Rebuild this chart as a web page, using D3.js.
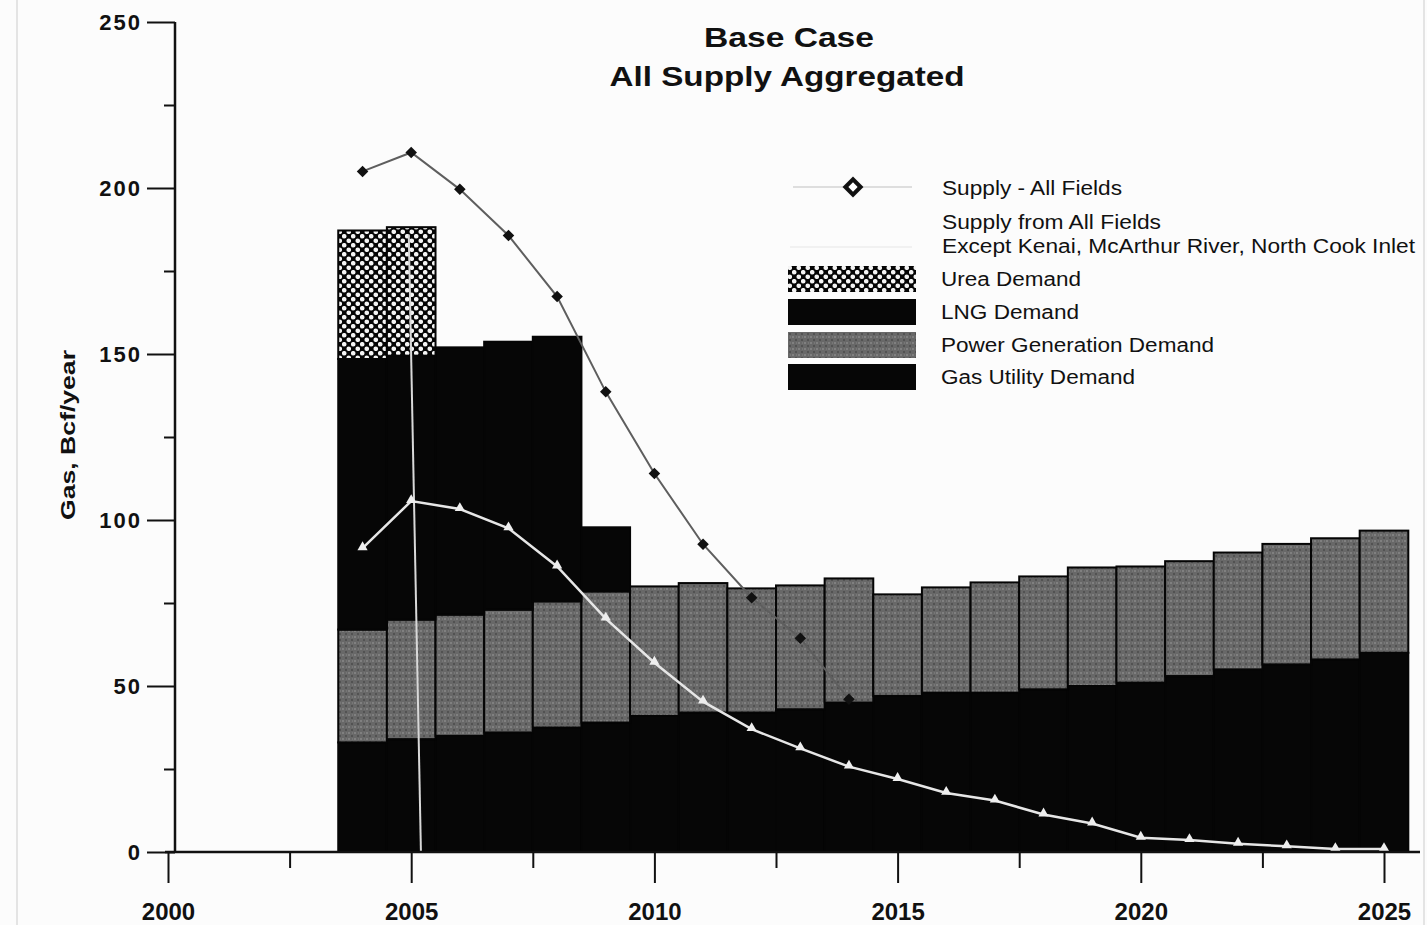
<!DOCTYPE html>
<html><head><meta charset="utf-8">
<script src="https://cdn.jsdelivr.net/npm/d3@7"></script>
<style>
html,body{margin:0;padding:0;background:#fcfcfc;}
svg{display:block;}
text{font-family:"Liberation Sans",Arial,Helvetica,sans-serif;fill:#111;}
</style></head>
<body>
<svg id="chart" width="1427" height="925"></svg>
<script>
// ---- data ----
const years = [2004,2005,2006,2007,2008,2009,2010,2011,2012,2013,2014,2015,2016,2017,2018,2019,2020,2021,2022,2023,2024,2025];
const gasUtility = [33,34,35,36,37.5,39,41,42,42,43,45,47,48,48,49,50,51,53,55,56.5,58,60];
const powerGen   = [34,36,36.5,37,38,39.5,39,39,37.4,37.3,37.4,30.6,31.7,33.2,34,35.7,35,34.6,35.2,36.3,36.5,36.8];
const lngDemand  = [81.5,79.5,80.5,80.7,79.7,19.3,0,0,0,0,0,0,0,0,0,0,0,0,0,0,0,0];
const ureaDemand = [38.7,38.7,0,0,0,0,0,0,0,0,0,0,0,0,0,0,0,0,0,0,0,0];
const supplyAllYears = [2004,2005,2006,2007,2008,2009,2010,2011,2012,2013,2014];
const supplyAll = [205,210.7,199.6,185.7,167.3,138.6,114,92.7,76.6,64.4,46];
const supplyExcept = [91.5,105.7,103.3,97.5,86,70.3,57,45.3,37,31.2,25.7,22,17.8,15.5,11.3,8.6,4.3,3.6,2.5,1.7,0.9,0.9];
const dropLine = [[2004.95,186],[2005.2,0]];
const yMajor = [0,50,100,150,200,250];
const yMinor = [25,75,125,175,225];
const xMajor = [2000,2005,2010,2015,2020,2025];
const xMinor = [2002.5,2007.5,2012.5,2017.5,2022.5];
const titleLines = ["Base Case","All Supply Aggregated"];
const yTitle = "Gas, Bcf/year";
const legendItems = [
  {key:"urea", label:"Urea Demand"},
  {key:"lng", label:"LNG Demand"},
  {key:"power", label:"Power Generation Demand"},
  {key:"utility", label:"Gas Utility Demand"}
];

const svg = d3.select("#chart");
const x = d3.scaleLinear().domain([2000,2025]).range([168,1384]);
const y = d3.scaleLinear().domain([0,250]).range([852,22]);

const defs = svg.append("defs");
const pat = defs.append("pattern").attr("id","dots").attr("patternUnits","userSpaceOnUse")
  .attr("width",9).attr("height",9);
pat.append("rect").attr("width",9).attr("height",9).attr("fill","#050505");
pat.append("circle").attr("cx",2.25).attr("cy",2.25).attr("r",2.3).attr("fill","#f4f4f4");
pat.append("circle").attr("cx",6.75).attr("cy",6.75).attr("r",2.3).attr("fill","#f4f4f4");

const gpat = defs.append("pattern").attr("id","grain").attr("patternUnits","userSpaceOnUse")
  .attr("width",6).attr("height",6);
gpat.append("rect").attr("width",6).attr("height",6).attr("fill","#686868");
gpat.append("rect").attr("x",0).attr("y",0).attr("width",2).attr("height",2).attr("fill","#808080");
gpat.append("rect").attr("x",3).attr("y",3).attr("width",2).attr("height",2).attr("fill","#525252");
gpat.append("rect").attr("x",4).attr("y",0).attr("width",1).attr("height",2).attr("fill","#777");

const fills = {utility:"#060606", power:"url(#grain)", lng:"#060606", urea:"url(#dots)"};

// frame lines of scan
svg.append("line").attr("x1",17).attr("x2",17).attr("y1",0).attr("y2",925).attr("stroke","#ddd").attr("stroke-width",1.5);
svg.append("line").attr("x1",1424).attr("x2",1424).attr("y1",0).attr("y2",925).attr("stroke","#ddd").attr("stroke-width",1.5);

// stacked bars
const table = years.map((yr,i)=>({year:yr, utility:gasUtility[i], power:powerGen[i], lng:lngDemand[i], urea:ureaDemand[i]}));
const stack = d3.stack().keys(["utility","power","lng","urea"])(table);
const gBars = svg.append("g");
stack.forEach(layer=>{
  gBars.append("g").selectAll("rect").data(layer.filter(d=>d[1]-d[0]>0)).join("rect")
    .attr("x",d=>x(d.data.year-0.5))
    .attr("width",d=>x(d.data.year+0.5)-x(d.data.year-0.5))
    .attr("y",d=>y(d[1]))
    .attr("height",d=>y(d[0])-y(d[1]))
    .attr("fill",fills[layer.key])
    .attr("stroke","#050505").attr("stroke-width",2);
});

// faint drop line
svg.append("path").attr("d",d3.line().x(d=>x(d[0])).y(d=>y(d[1]))(dropLine))
  .attr("stroke","#d8d8d8").attr("stroke-width",2).attr("fill","none");

// supply - all fields
const sa = supplyAllYears.map((yr,i)=>[yr,supplyAll[i]]);
svg.append("path").attr("d",d3.line().x(d=>x(d[0])).y(d=>y(d[1]))(sa))
  .attr("stroke","#5e5e5e").attr("stroke-width",2).attr("fill","none");
svg.append("g").selectAll("path").data(sa).join("path")
  .attr("d",d3.symbol(d3.symbolDiamond2,85)())
  .attr("transform",d=>`translate(${x(d[0])},${y(d[1])})`)
  .attr("fill","#111");

// supply except
const se = years.map((yr,i)=>[yr,supplyExcept[i]]);
svg.append("path").attr("d",d3.line().x(d=>x(d[0])).y(d=>y(d[1]))(se))
  .attr("stroke","#e6e6e6").attr("stroke-width",2.5).attr("fill","none");
svg.append("g").selectAll("path").data(se).join("path")
  .attr("d",d3.symbol(d3.symbolTriangle,45)())
  .attr("transform",d=>`translate(${x(d[0])},${y(d[1])-1})`)
  .attr("fill","#eeeeee");

// axes
const yAxisX = 175;
const yAx = svg.append("g").attr("transform",`translate(${yAxisX},0)`)
  .call(d3.axisLeft(y).tickValues(yMajor).tickSize(28).tickPadding(5).tickFormat(d3.format("d")));
yAx.select(".domain").attr("d",`M0,${y(250)}V${y(0)}`).attr("stroke","#111").attr("stroke-width",2.5);
yAx.selectAll(".tick line").attr("stroke","#111").attr("stroke-width",2);
yAx.selectAll(".tick text").style("font-size","22px").style("font-weight","bold").attr("letter-spacing","2").attr("dy","0.36em");
const yMin = svg.append("g").attr("transform",`translate(${yAxisX},0)`)
  .call(d3.axisLeft(y).tickValues(yMinor).tickSize(11).tickFormat(""));
yMin.select(".domain").remove();
yMin.selectAll(".tick line").attr("stroke","#111").attr("stroke-width",2);

const xAx = svg.append("g").attr("transform",`translate(0,${y(0)})`)
  .call(d3.axisBottom(x).tickValues(xMajor).tickSize(31).tickPadding(20).tickFormat(d3.format("d")));
xAx.select(".domain").attr("d",`M165,0H1420`).attr("stroke","#111").attr("stroke-width",2.5);
xAx.selectAll(".tick line").attr("stroke","#111").attr("stroke-width",2);
xAx.selectAll(".tick text").style("font-size","24px").style("font-weight","bold");
const xMin = svg.append("g").attr("transform",`translate(0,${y(0)})`)
  .call(d3.axisBottom(x).tickValues(xMinor).tickSize(16).tickFormat(""));
xMin.select(".domain").remove();
xMin.selectAll(".tick line").attr("stroke","#111").attr("stroke-width",2);

// y title
svg.append("text").attr("transform","translate(75,435) rotate(-90)")
  .attr("text-anchor","middle").style("font-size","21px").style("font-weight","bold")
  .attr("textLength",170).attr("lengthAdjust","spacingAndGlyphs").text(yTitle);

// title
svg.append("text").attr("x",789).attr("y",47).attr("text-anchor","middle")
  .style("font-size","28px").style("font-weight","bold")
  .attr("textLength",170).attr("lengthAdjust","spacingAndGlyphs").text(titleLines[0]);
svg.append("text").attr("x",787).attr("y",86).attr("text-anchor","middle")
  .style("font-size","28px").style("font-weight","bold")
  .attr("textLength",355).attr("lengthAdjust","spacingAndGlyphs").text(titleLines[1]);

// legend
const lg = svg.append("g");
lg.append("line").attr("x1",793).attr("x2",912).attr("y1",187).attr("y2",187).attr("stroke","#d4d4d4").attr("stroke-width",1.5);
lg.append("path").attr("d",d3.symbol(d3.symbolDiamond2,280)()).attr("transform","translate(853,187)").attr("fill","#111");
lg.append("path").attr("d",d3.symbol(d3.symbolDiamond2,55)()).attr("transform","translate(853,187)").attr("fill","#fff");
lg.append("line").attr("x1",790).attr("x2",912).attr("y1",247).attr("y2",247).attr("stroke","#eeeeee").attr("stroke-width",1.5);
const legText = (txt,tx,ty,len)=>lg.append("text").attr("x",tx).attr("y",ty).style("font-size","20px")
  .attr("textLength",len).attr("lengthAdjust","spacingAndGlyphs").text(txt);
legText("Supply - All Fields",942,195,180);
legText("Supply from All Fields",942,229,219);
legText("Except Kenai, McArthur River, North Cook Inlet",942,253,473);
const swTop = [266,299,332,364];
const txtLen = [140,138,273,194];
legendItems.forEach((it,i)=>{
  lg.append("rect").attr("x",788).attr("y",swTop[i]).attr("width",128).attr("height",26)
    .attr("fill",fills[it.key]);
  legText(it.label,941,swTop[i]+20,txtLen[i]);
});
</script>
</body></html>
